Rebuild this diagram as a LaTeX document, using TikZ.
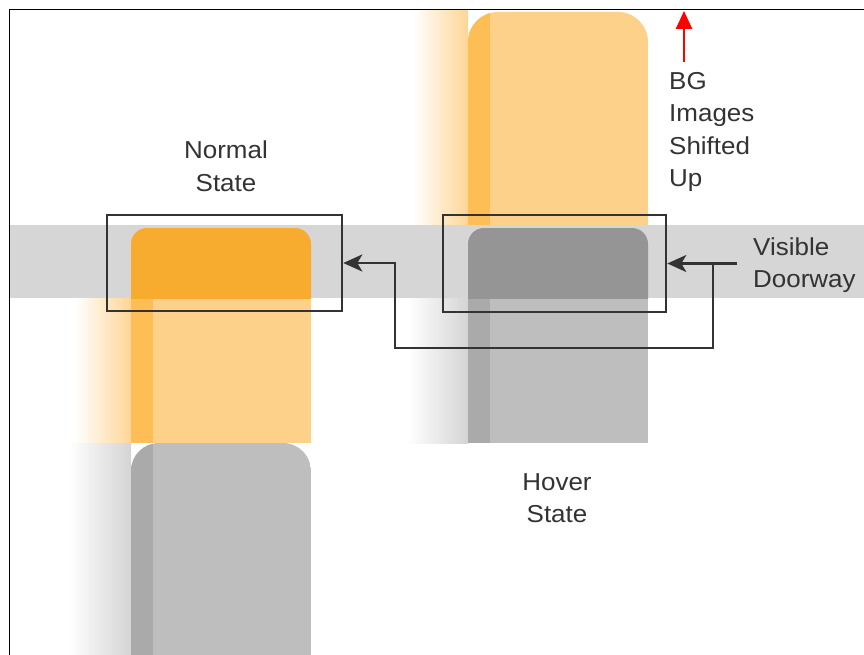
\documentclass[tikz,border=0pt]{standalone}
\usepackage{fontspec}
\setmainfont{Liberation Sans}[FakeStretch=1.06]
\usetikzlibrary{arrows.meta}

\definecolor{bandgray}{HTML}{D6D6D6}
\definecolor{softorange}{HTML}{FDD189}
\definecolor{striporange}{HTML}{FCBE55}
\definecolor{doororange}{HTML}{F7AB2F}
\definecolor{softgray}{HTML}{BEBEBE}
\definecolor{fadegray}{HTML}{D4D4D4}
\definecolor{stripgray}{HTML}{AAAAAA}
\definecolor{doorgray}{HTML}{959595}
\definecolor{inkgray}{HTML}{333333}

\pgfdeclarehorizontalshading{fadeorange}{100bp}{color(0bp)=(white); color(25bp)=(white); color(75bp)=(softorange!90); color(100bp)=(softorange!90)}
\pgfdeclarehorizontalshading{fadegray}{100bp}{color(0bp)=(white); color(25bp)=(white); color(75bp)=(fadegray); color(100bp)=(fadegray)}

\begin{document}
\begin{tikzpicture}[x=1pt, y=-1pt,
    doorbox/.style={draw=inkgray, line width=2.6pt, inner sep=0pt},
    link/.style={draw=inkgray, line width=2.4pt, -{Stealth[length=19pt,width=17pt,inset=5pt]}},
    caption/.style={text=inkgray, font=\fontsize{24.5}{32.5}\selectfont, inner sep=0pt}]
    \useasboundingbox (0,0) rectangle (864,655);

    % Normal state: faded image below the doorway
    \shade[shading=fadeorange] (75,298) rectangle (131,443);
    \fill[softorange] (131,298) rectangle (311,443);
    \fill[striporange] (131,298) rectangle (153,443);

    % Normal state: gray image underneath
    \shade[shading=fadegray] (69,443) rectangle (131,655);
    \begin{scope}
        \clip[rounded corners=28pt] (131,443) rectangle (311,720);
        \fill[softgray] (131,443) rectangle (311,655);
        \fill[stripgray] (131,443) rectangle (153,655);
    \end{scope}

    % Hover state: orange image shifted up
    \shade[shading=fadeorange] (413,10) rectangle (468,228);
    \begin{scope}
        \clip[rounded corners=30pt] (468,12) rectangle (648,280);
        \fill[softorange] (468,0) rectangle (648,228);
        \fill[striporange] (468,0) rectangle (490,228);
    \end{scope}

    % Hover state: gray image below the doorway
    \shade[shading=fadegray] (408,298) rectangle (468,443);
    \fill[softgray] (468,298) rectangle (648,443);
    \fill[stripgray] (468,298) rectangle (490,443);

    % Visible band
    \fill[bandgray] (9,225) rectangle (864,298);

    % Images seen through the doorway
    \begin{scope}
        \clip (0,0) rectangle (864,298);
        \fill[doororange, rounded corners=16pt] (131,228) rectangle (311,340);
        \fill[doorgray, rounded corners=16pt] (468,228) rectangle (648,340);
    \end{scope}

    % Doorway boxes
    \node[doorbox, minimum width=235pt, minimum height=96pt] (normalbox) at (224.5,263) {};
    \node[doorbox, minimum width=223pt, minimum height=97pt] (hoverbox) at (554.5,263.5) {};

    % Arrows to the doorways
    \coordinate (doorway) at (737,263.5);
    \coordinate (turn) at (713,263.5);
    \coordinate (under) at (395,348);
    \draw[link] (doorway) -- (hoverbox.east);
    \draw[link] (turn) |- (under) |- (normalbox.east);

    % Shift arrow
    \coordinate (shiftfoot) at (684,62);
    \coordinate (shifttip) at (684,11);
    \draw[red, line width=2.5pt, -{Triangle[length=18pt,width=16pt]}] (shiftfoot) -- (shifttip);

    % Labels
    \node[caption, align=center] (normaltext) at (226,166) {Normal\\State};
    \node[caption, align=left, anchor=west] (shifttext) at (669,132) {BG\\Images\\Shifted\\Up};
    \node[caption, align=left, anchor=west] (doortext) at (753,265) {Visible\\Doorway};
    \node[caption, align=center] (hovertext) at (557,498) {Hover\\State};

    % Frame
    \draw[line width=1.5pt] (9.5,655) -- (9.5,9.5) -- (864,9.5);
\end{tikzpicture}
\end{document}
